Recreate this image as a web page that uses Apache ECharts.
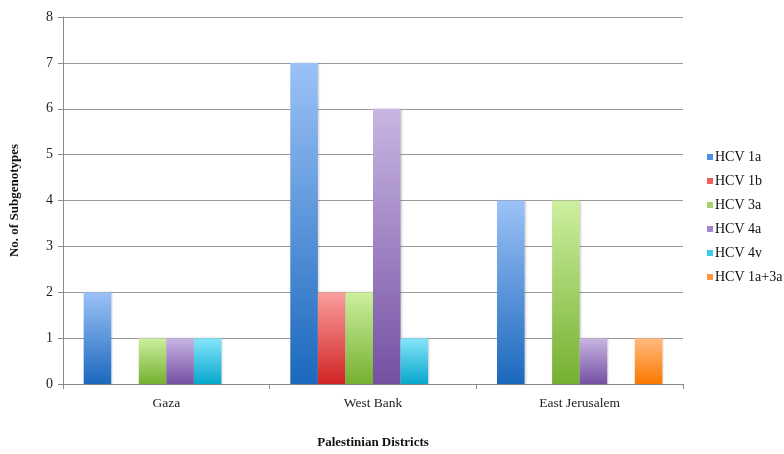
<!DOCTYPE html>
<html>
<head>
<meta charset="utf-8">
<script src="https://cdn.jsdelivr.net/npm/echarts@6/dist/echarts.min.js"></script>
<style>
  html, body { margin: 0; padding: 0; background: #fff; overflow: hidden; }
  #chart { width: 784px; height: 454px; }
</style>
</head>
<body>
<div id="chart"></div>
<script>
// Palestinian districts and HCV subgenotype counts
const districts = ['Gaza', 'West Bank', 'East Jerusalem'];
const seriesNames = ['HCV 1a', 'HCV 1b', 'HCV 3a', 'HCV 4a', 'HCV 4v', 'HCV 1a+3a'];
const hcv1a   = [2, 7, 4];
const hcv1b   = [0, 2, 0];
const hcv3a   = [1, 2, 4];
const hcv4a   = [1, 6, 1];
const hcv4v   = [1, 1, 0];
const hcv1a3a = [0, 0, 1];
const yTicks = [0, 1, 2, 3, 4, 5, 6, 7, 8];

const values = [hcv1a, hcv1b, hcv3a, hcv4a, hcv4v, hcv1a3a];
// [top, bottom, legend] colours per series
const palette = [
  ['#9cc2f7', '#1b68bd', '#4b8fe0'],
  ['#fb9e9e', '#d02424', '#ee5f5f'],
  ['#cdef9f', '#75b030', '#a3d66a'],
  ['#c9b6e3', '#7450a2', '#a487cb'],
  ['#85e6fb', '#07a6cc', '#3fcaec'],
  ['#ffbb80', '#fb7800', '#fd9a40']
];

const serif = '"Liberation Serif", "DejaVu Serif", serif';

const chart = echarts.init(document.getElementById('chart'), null, { renderer: 'canvas' });

const series = seriesNames.map((name, i) => ({
  name: name,
  type: 'bar',
  barGap: '0%',
  barCategoryGap: '20%',
  data: values[i].map(v => v === 0 ? null : v),
  itemStyle: {
    color: new echarts.graphic.LinearGradient(0, 0, 0, 1, [
      { offset: 0, color: palette[i][0] },
      { offset: 1, color: palette[i][1] }
    ]),
    shadowColor: 'rgba(0,0,0,0.18)',
    shadowBlur: 2,
    shadowOffsetX: 1
  }
}));

chart.setOption({
  animation: false,
  backgroundColor: '#fff',
  grid: { left: 61, width: 622, top: 17, height: 373, containLabel: false },
  legend: {
    orient: 'vertical',
    left: 702,
    top: 145,
    itemWidth: 6,
    itemHeight: 6,
    itemGap: 10,
    icon: 'rect',
    textStyle: { fontFamily: serif, fontSize: 14, color: '#111', padding: [0, 0, 0, -3] },
    data: seriesNames.map((n, i) => ({ name: n, itemStyle: { color: palette[i][2] } }))
  },
  xAxis: {
    type: 'category',
    data: districts,
    name: 'Palestinian Districts',
    nameLocation: 'middle',
    nameGap: 52,
    nameTextStyle: { fontFamily: serif, fontSize: 13, fontWeight: 'bold', color: '#111' },
    axisLine: { lineStyle: { color: '#8a8a8a', width: 1 } },
    axisTick: { show: true, length: 5, lineStyle: { color: '#8a8a8a' } },
    axisLabel: { fontFamily: serif, fontSize: 13.5, color: '#222', margin: 12 }
  },
  yAxis: {
    type: 'value',
    min: yTicks[0],
    max: yTicks[yTicks.length - 1],
    interval: 1,
    name: 'No. of Subgenotypes',
    nameLocation: 'middle',
    nameGap: 42,
    nameRotate: 90,
    nameTextStyle: { fontFamily: serif, fontSize: 13, fontWeight: 'bold', color: '#111' },
    axisLine: { show: true, lineStyle: { color: '#8a8a8a', width: 1 } },
    axisTick: { show: true, length: 5, inside: false, lineStyle: { color: '#8a8a8a' } },
    axisLabel: { fontFamily: serif, fontSize: 14, color: '#222', margin: 10 },
    splitLine: { show: true, lineStyle: { color: '#9a9a9a', width: 1 } }
  },
  series: series
});
</script>
</body>
</html>
